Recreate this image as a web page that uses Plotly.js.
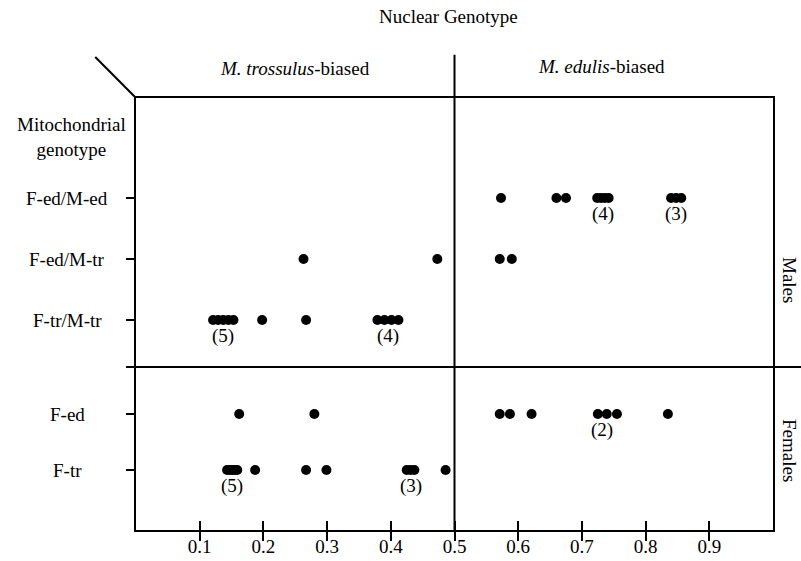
<!DOCTYPE html>
<html>
<head>
<meta charset="utf-8">
<script src="https://cdn.plot.ly/plotly-3.0.1.min.js"></script>
<style>html,body{margin:0;padding:0;background:#fff;}#chart{width:801px;height:561px;}</style>
</head>
<body>
<div id="chart"></div>
<script>
// Row categories (mitochondrial genotype)
var rows = ["F-ed/M-ed", "F-ed/M-tr", "F-tr/M-tr", "F-ed", "F-tr"];
// Nuclear genotype index values for each row
var vals_Fed_Med = [0.573, 0.660, 0.675, 0.724, 0.730, 0.736, 0.742, 0.840, 0.848, 0.856];
var vals_Fed_Mtr = [0.263, 0.473, 0.571, 0.590];
var vals_Ftr_Mtr = [0.121, 0.129, 0.137, 0.145, 0.153, 0.198, 0.267, 0.379, 0.390, 0.401, 0.412];
var vals_Fed = [0.162, 0.280, 0.571, 0.587, 0.621, 0.725, 0.739, 0.755, 0.835];
var vals_Ftr = [0.143, 0.147, 0.151, 0.155, 0.159, 0.187, 0.267, 0.299, 0.425, 0.431, 0.437, 0.486];
// Count labels
var countRows = ["F-ed/M-ed", "F-ed/M-ed", "F-tr/M-tr", "F-tr/M-tr", "F-ed", "F-tr", "F-tr"];
var countX = [0.733, 0.848, 0.137, 0.395, 0.732, 0.151, 0.431];
var countText = ["(4)", "(3)", "(5)", "(4)", "(2)", "(5)", "(3)"];
var xTicks = [0.1, 0.2, 0.3, 0.4, 0.5, 0.6, 0.7, 0.8, 0.9];
var xTickText = ["0.1", "0.2", "0.3", "0.4", "0.5", "0.6", "0.7", "0.8", "0.9"];

// layout mapping (vertical placement of rows, in axis units)
var rowY = {"F-ed/M-ed": 198, "F-ed/M-tr": 259, "F-tr/M-tr": 320, "F-ed": 414, "F-tr": 470};
var allVals = [vals_Fed_Med, vals_Fed_Mtr, vals_Ftr_Mtr, vals_Fed, vals_Ftr];

var FONT = "Liberation Serif, Times New Roman, serif";
var FS = 19;
var traces = [];
rows.forEach(function(r, i){
  traces.push({
    type: "scatter", mode: "markers",
    x: allVals[i],
    y: allVals[i].map(function(){ return rowY[r]; }),
    marker: {color: "#000", size: 10},
    hoverinfo: "x", showlegend: false, xaxis: "x", yaxis: "y"
  });
});
// dummy trace for overlay axis
traces.push({type:"scatter", x:[0], y:[530], mode:"markers", marker:{opacity:0}, xaxis:"x2", yaxis:"y", showlegend:false, hoverinfo:"skip"});

var annotations = [];
rows.forEach(function(r){
  annotations.push({xref:"paper", yref:"y", x:-0.108, y:rowY[r], text:r, showarrow:false,
    xanchor:"center", yanchor:"middle", font:{family:FONT, size:FS, color:"#000"}});
});
countText.forEach(function(t, i){
  annotations.push({xref:"x", yref:"y", x:countX[i], y:rowY[countRows[i]], yshift:-16, text:t, showarrow:false,
    xanchor:"center", yanchor:"middle", font:{family:FONT, size:FS, color:"#000"}});
});
annotations.push({xref:"paper", yref:"y", x:-0.102, y:137, text:"Mitochondrial<br>genotype", showarrow:false,
  xanchor:"center", yanchor:"middle", font:{family:FONT, size:FS, color:"#000"}});
annotations.push({xref:"paper", yref:"paper", x:0.49, y:1.0, yshift:82, text:"Nuclear Genotype", showarrow:false,
  xanchor:"center", yanchor:"middle", font:{family:FONT, size:FS, color:"#000"}});
annotations.push({xref:"x", yref:"paper", x:0.25, y:1.0, yshift:30, text:"<i>M. trossulus</i>-biased", showarrow:false,
  xanchor:"center", yanchor:"middle", font:{family:FONT, size:FS, color:"#000"}});
annotations.push({xref:"x", yref:"paper", x:0.73, y:1.0, yshift:32, text:"<i>M. edulis</i>-biased", showarrow:false,
  xanchor:"center", yanchor:"middle", font:{family:FONT, size:FS, color:"#000"}});
annotations.push({xref:"paper", yref:"y", x:1.0, xshift:17, y:280, text:"Males", textangle:90, showarrow:false,
  xanchor:"center", yanchor:"middle", font:{family:FONT, size:FS, color:"#000"}});
annotations.push({xref:"paper", yref:"y", x:1.0, xshift:17, y:450, text:"Females", textangle:90, showarrow:false,
  xanchor:"center", yanchor:"middle", font:{family:FONT, size:FS, color:"#000"}});

var layout = {
  width: 801, height: 561,
  margin: {l:136, r:28, t:98, b:31, pad:0},
  paper_bgcolor: "#fff", plot_bgcolor: "#fff",
  showlegend: false,
  xaxis: {range:[0, 1.0], tickmode:"array", tickvals:xTicks, ticktext:xTickText,
    ticks:"outside", ticklen:9, tickwidth:2, tickcolor:"#000", ticklabelstandoff:-11,
    showline:true, linewidth:2, linecolor:"#000", mirror:true,
    showgrid:false, zeroline:false, fixedrange:true,
    tickfont:{family:FONT, size:19, color:"#000"}},
  xaxis2: {range:[0, 1.0], overlaying:"x", anchor:"y", side:"bottom", tickmode:"array", tickvals:xTicks,
    ticks:"inside", ticklen:9, tickwidth:2, tickcolor:"#000", showticklabels:false,
    showline:false, showgrid:false, zeroline:false, fixedrange:true},
  yaxis: {range:[530, 98], tickmode:"array",
    tickvals: rows.map(function(r){return rowY[r];}).concat([367]),
    ticks:"outside", ticklen:8, tickwidth:2, tickcolor:"#000", showticklabels:false,
    showline:true, linewidth:2, linecolor:"#000", mirror:true,
    showgrid:false, zeroline:false, fixedrange:true},
  shapes: [
    {type:"line", xref:"x", yref:"paper", x0:0.5, x1:0.5, y0:0, y1:1.1, line:{color:"#000", width:2}},
    {type:"line", xref:"paper", yref:"y", x0:0, x1:1.044, y0:367, y1:367, line:{color:"#000", width:2}},
    {type:"line", xref:"paper", yref:"paper", x0:-0.064, y0:1.095, x1:0, y1:1.0, line:{color:"#000", width:2}}
  ],
  annotations: annotations
};
Plotly.newPlot("chart", traces, layout, {displayModeBar:false, staticPlot:true});
</script>
</body>
</html>
